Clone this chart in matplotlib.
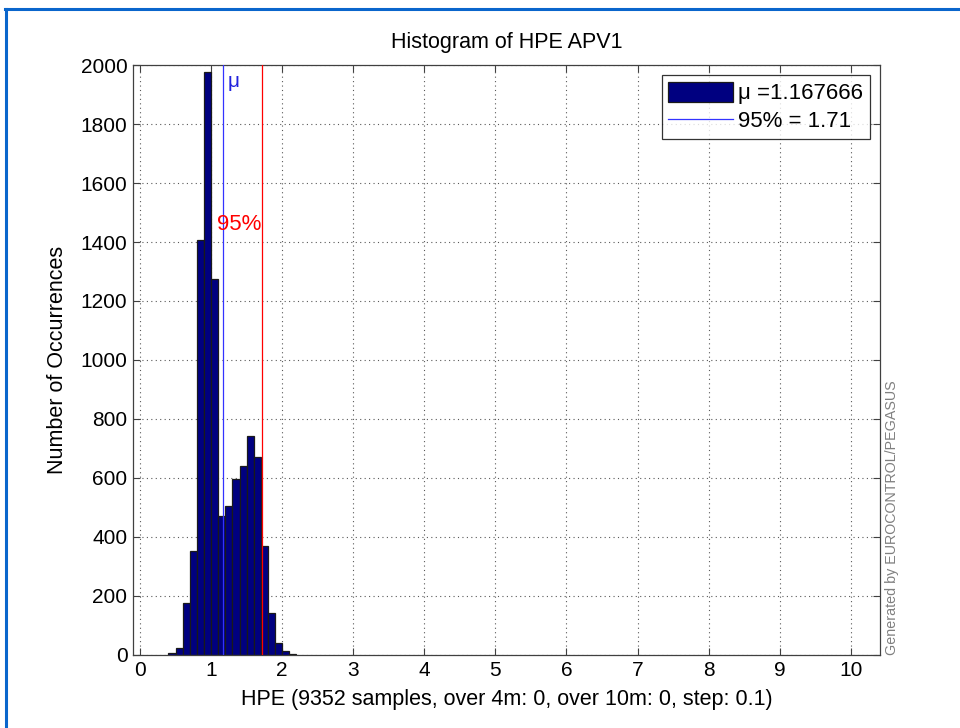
"""Histogram of HPE APV1."""

import matplotlib

matplotlib.use("Agg")
from matplotlib import pyplot as plt
from matplotlib.lines import Line2D

plt.rcParams["font.family"] = ["Liberation Sans", "DejaVu Sans"]

# bin centres (step 0.1) and counts
bin_centers = [0.45, 0.55, 0.65, 0.75, 0.85, 0.95, 1.05, 1.15, 1.25,
               1.35, 1.45, 1.55, 1.65, 1.75, 1.85, 1.95, 2.05, 2.15]
counts = [6, 24, 176, 353, 1407, 1975, 1274, 472, 505,
          595, 640, 744, 672, 370, 142, 42, 12, 5]
mu = 1.167666
p95 = 1.71
x_ticks = list(range(0, 11))
y_ticks = list(range(0, 2001, 200))

fig = plt.figure(figsize=(9.6, 7.28), dpi=100)
ax = fig.add_axes([0.1385, 0.1003, 0.778, 0.8104])

bars = ax.bar(bin_centers, counts, width=0.1, color="#000080",
              edgecolor="0.1", linewidth=0.9, zorder=2,
              label="\u03bc =1.167666")
mu_line = ax.axvline(mu, color="#3333ff", linewidth=0.9, zorder=3,
                     label="95% = 1.71")
ax.axvline(p95, color="red", linewidth=0.9, zorder=3)
ax.text(mu + 0.06, 1945, "\u03bc", color="#2222dd", fontsize=15,
        ha="left", va="center")
ax.text(p95, 1460, "95%", color="red", fontsize=16, ha="right",
        va="center")

ax.set_xlim(-0.1, 10.41)
ax.set_ylim(0, 2000)
ax.set_xticks(x_ticks)
ax.set_yticks(y_ticks)
ax.grid(True, linestyle=(0, (1, 3)), color="0.35", linewidth=0.8, zorder=0)
ax.set_axisbelow(True)
ax.tick_params(direction="in", top=True, right=True, length=5,
               labelsize=15, width=0.8, color="0.25", pad=4)
for s in ax.spines.values():
    s.set_color("0.25")
    s.set_linewidth(0.9)

ax.set_title("Histogram of HPE APV1", fontsize=15.5, pad=12)
ax.set_xlabel("HPE (9352 samples, over 4m: 0, over 10m: 0, step: 0.1)",
              fontsize=15.5, labelpad=7)
ax.set_ylabel("Number of Occurrences", fontsize=15.5, labelpad=9)

leg = ax.legend(handles=[bars, mu_line], loc="upper right", fontsize=16,
                frameon=True, fancybox=False, edgecolor="black",
                handlelength=2.9, handleheight=1.0, borderaxespad=0.45,
                borderpad=0.3, labelspacing=0.25, handletextpad=0.25)
leg.get_frame().set_linewidth(0.9)

ax.text(1.007, 0.0, "Generated by EUROCONTROL/PEGASUS", rotation=90,
        transform=ax.transAxes, fontsize=10.3, color="0.5", ha="left",
        va="bottom")

# window frame
fig.add_artist(Line2D([0.0065, 0.0065], [0.0, 0.987], transform=fig.transFigure,
                      color="#0a66cc", linewidth=2.2))
fig.add_artist(Line2D([0.0055, 1.0], [0.987, 0.987], transform=fig.transFigure,
                      color="#0a66cc", linewidth=2.2))

fig.savefig("out.png", dpi=100, facecolor="white")
